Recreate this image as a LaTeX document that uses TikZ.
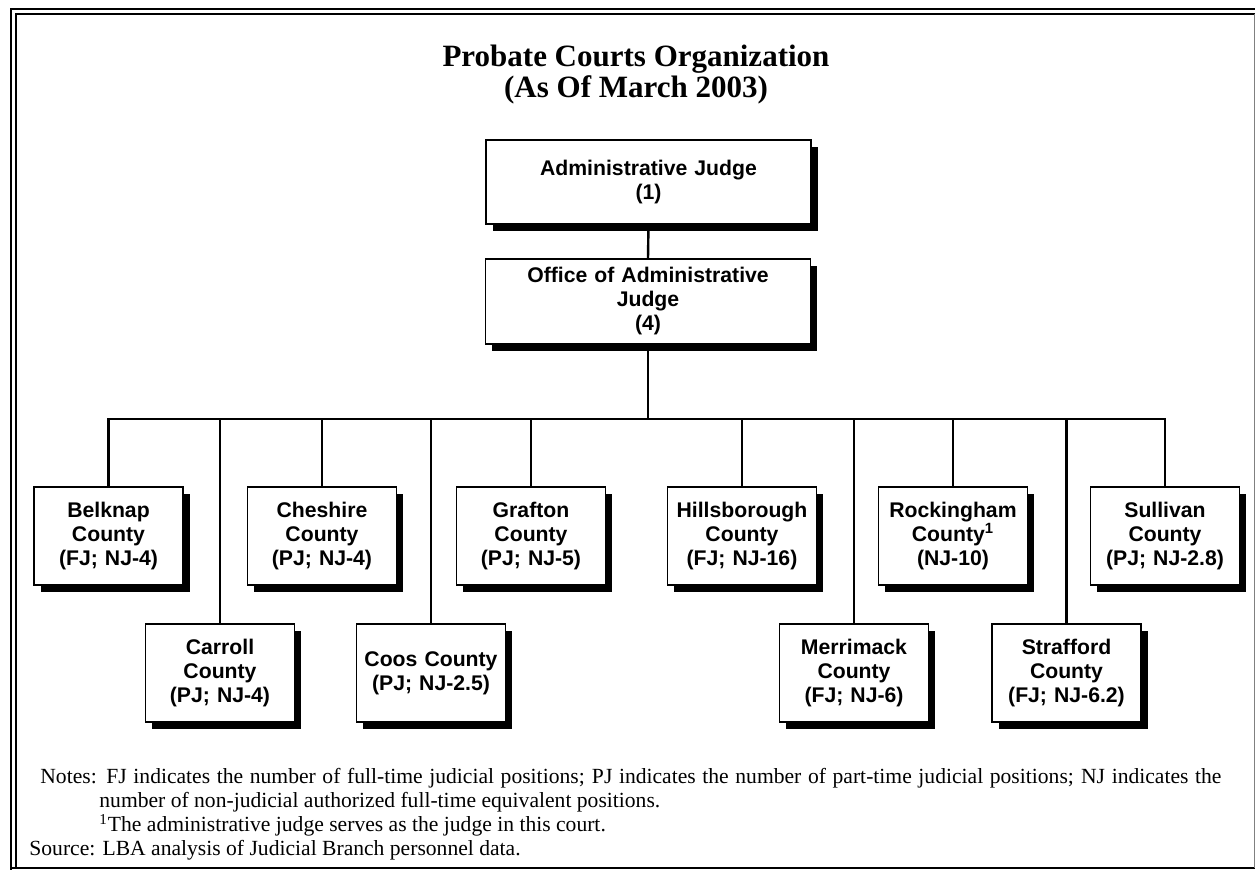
\documentclass[tikz,border=0pt]{standalone}
\usepackage{fontspec}
\setmainfont{Liberation Serif}
\setsansfont{Liberation Sans}
\usetikzlibrary{shadows,backgrounds}

\tikzset{
  court/.style={draw, line width=0.6pt, fill=white,
    font=\sffamily\bfseries\fontsize{10.6}{12}\selectfont,
    align=center, text width=68pt, inner xsep=3.25pt,
    minimum width=74.5pt, minimum height=49pt,
    drop shadow={shadow xshift=3.3pt, shadow yshift=-3.3pt, fill=black, opacity=1}},
  headbox/.style={court, text width=150pt, minimum width=162.5pt, minimum height=42.5pt},
  link/.style={line width=1.2pt},
}

\begin{document}
\begin{tikzpicture}[x=0.5pt, y=-0.5pt]
    \useasboundingbox (0,0) rectangle (1255,870);

    % Frame
    \draw[line width=1pt] (11,870) -- (11,9) -- (1255,9);
    \draw[line width=1pt] (15.5,868) -- (15.5,14) -- (1255,14);
    \draw[line width=1pt] (10,868) -- (1255,868);
    \draw[gray, line width=0.5pt] (1254,14) -- (1254,868);

    % Title
    \node[anchor=base, font=\bfseries\fontsize{15.5}{16}\selectfont] (title) at (636,67) {Probate Courts Organization};
    \node[anchor=base, font=\bfseries\fontsize{15.5}{16}\selectfont] (subtitle) at (636,98) {(As Of March 2003)};

    % Head boxes
    \node[headbox, minimum height=42pt] (admin) at (648.5,182) {Administrative Judge\\(1)};
    \node[headbox] (office) at (648,301.5) {Office of Administrative\\Judge\\(4)};

    % Counties, upper row
    \node[court] (belknap) at (108.5,536) {Belknap\\County\\(FJ; NJ-4)};
    \node[court] (cheshire) at (322,536) {Cheshire\\County\\(PJ; NJ-4)};
    \node[court] (grafton) at (531,536) {Grafton\\County\\(PJ; NJ-5)};
    \node[court] (hillsborough) at (742,536) {Hillsborough\\County\\(FJ; NJ-16)};
    \node[court] (rockingham) at (953,536) {Rockingham\\County\textsuperscript{1}\\(NJ-10)};
    \node[court] (sullivan) at (1165,536) {Sullivan\\County\\(PJ; NJ-2.8)};

    % Counties, lower row
    \node[court] (carroll) at (220,673) {Carroll\\County\\(PJ; NJ-4)};
    \node[court] (coos) at (431,673) {Coos County\\(PJ; NJ-2.5)};
    \node[court] (merrimack) at (854,673) {Merrimack\\County\\(FJ; NJ-6)};
    \node[court] (strafford) at (1066.5,673) {Strafford\\County\\(FJ; NJ-6.2)};

    % Connectors
    \coordinate (bus) at (648,419);
    \begin{scope}[on background layer]
        \draw[link] (admin.south) -- (office.north);
        \draw[link] (office.south) -- (bus);
        \draw[link] (belknap.north) |- (bus) -| (sullivan.north);
        \foreach \c in {cheshire,grafton,hillsborough,rockingham,carroll,coos,merrimack,strafford}
            \draw[link] (\c.north) -- (\c.north |- bus);
    \end{scope}

    % Notes
    \node[anchor=base west, inner sep=0pt, text width=590.5pt, align=justify,
          font=\fontsize{10.8}{12}\selectfont] (notes) at (40,784)
        {\hangindent=29.5pt \hangafter=1 Notes: FJ indicates the number of full-time judicial positions; PJ indicates the number of part-time judicial positions; NJ indicates the\linebreak number of non-judicial authorized full-time equivalent positions.\par};
    \node[anchor=base west, inner sep=0pt, font=\fontsize{10.8}{12}\selectfont] (fnote) at (99,832)
        {\textsuperscript{1}The administrative judge serves as the judge in this court.};
    \node[anchor=base west, inner sep=0pt, font=\fontsize{10.8}{12}\selectfont] (source) at (29,856)
        {Source: LBA analysis of Judicial Branch personnel data.};
\end{tikzpicture}
\end{document}
